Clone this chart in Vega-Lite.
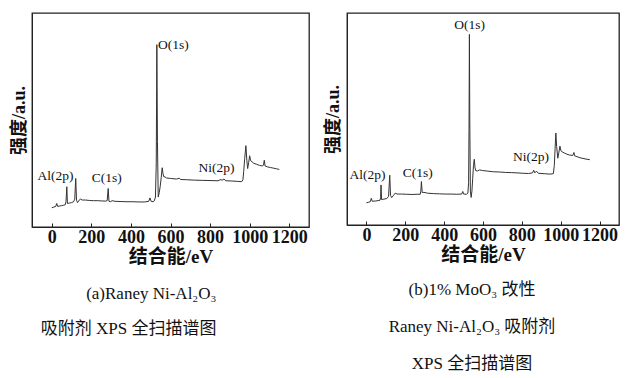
{
  "$schema": "https://vega.github.io/schema/vega-lite/v6.json",
  "padding": {"left": 9, "top": 12, "right": 0, "bottom": 0},
  "background": "white",
  "spacing": 13,
  "config": {
    "view": {"stroke": "#222", "strokeWidth": 1.3},
    "font": "Liberation Serif, Noto Sans CJK SC",
    "axis": {"grid": false, "domainColor": "#222", "tickColor": "#222", "labelColor": "#111", "titleColor": "#111"}
  },
  "datasets": {
    "a": [
      {"x":0,"y":9.0},{"x":10,"y":9.3},{"x":20,"y":9.6},{"x":25,"y":11.0},{"x":30,"y":9.6},{"x":40,"y":9.8},{"x":50,"y":10.0},{"x":60,"y":10.2},{"x":68,"y":10.4},{"x":72,"y":12},{"x":76,"y":18.8},{"x":79,"y":11.0},{"x":90,"y":11.2},{"x":100,"y":11.4},{"x":110,"y":11.8},{"x":116,"y":13},{"x":121,"y":22.7},{"x":125,"y":12.5},{"x":130,"y":11.4},{"x":138,"y":12.5},{"x":145,"y":13.0},{"x":155,"y":12.6},{"x":170,"y":12.6},{"x":190,"y":12.4},{"x":210,"y":12.3},{"x":230,"y":12.3},{"x":250,"y":12.2},{"x":270,"y":12.1},{"x":280,"y":12.3},{"x":285,"y":18.0},{"x":289,"y":12.0},{"x":296,"y":11.8},{"x":305,"y":12.3},{"x":320,"y":12.0},{"x":350,"y":11.9},{"x":380,"y":11.8},{"x":410,"y":11.8},{"x":440,"y":11.7},{"x":470,"y":11.7},{"x":490,"y":12.0},{"x":496,"y":13.6},{"x":502,"y":12.0},{"x":512,"y":11.8},{"x":518,"y":12.2},{"x":524,"y":14},{"x":528,"y":30},{"x":531,"y":85.2},{"x":534,"y":40},{"x":538,"y":14},{"x":543,"y":16},{"x":548,"y":19},{"x":553,"y":23},{"x":558,"y":27.7},{"x":562,"y":25},{"x":566,"y":23.5},{"x":572,"y":23.4},{"x":580,"y":22.9},{"x":600,"y":22.7},{"x":630,"y":22.4},{"x":645,"y":22.8},{"x":650,"y":22.2},{"x":680,"y":22.1},{"x":720,"y":21.9},{"x":760,"y":21.8},{"x":800,"y":21.7},{"x":840,"y":21.6},{"x":855,"y":22.2},{"x":860,"y":21.8},{"x":870,"y":22.4},{"x":880,"y":21.6},{"x":910,"y":21.5},{"x":940,"y":21.3},{"x":960,"y":21.2},{"x":966,"y":22},{"x":970,"y":26},{"x":975,"y":32},{"x":981,"y":38.0},{"x":986,"y":31},{"x":990,"y":27.3},{"x":995,"y":30},{"x":1000,"y":33.3},{"x":1005,"y":31},{"x":1012,"y":30.5},{"x":1020,"y":29.8},{"x":1035,"y":29.3},{"x":1050,"y":28.8},{"x":1065,"y":28.5},{"x":1070,"y":29},{"x":1074,"y":31.2},{"x":1078,"y":28.5},{"x":1090,"y":28.1},{"x":1105,"y":27.8},{"x":1120,"y":27.5},{"x":1135,"y":27.2},{"x":1150,"y":26.9}
    ],
    "b": [
      {"x":0,"y":10.5},{"x":10,"y":10.7},{"x":20,"y":11.0},{"x":25,"y":12.6},{"x":30,"y":11.2},{"x":45,"y":11.3},{"x":60,"y":11.5},{"x":70,"y":11.7},{"x":73,"y":13},{"x":75,"y":18.9},{"x":78,"y":12.0},{"x":90,"y":12.2},{"x":105,"y":12.5},{"x":114,"y":13.5},{"x":120,"y":23.5},{"x":124,"y":14},{"x":130,"y":12.9},{"x":138,"y":13.8},{"x":148,"y":15.0},{"x":158,"y":14.6},{"x":180,"y":14.6},{"x":205,"y":14.5},{"x":235,"y":14.4},{"x":260,"y":14.5},{"x":277,"y":14.5},{"x":280,"y":16},{"x":283,"y":20.5},{"x":287,"y":15.3},{"x":296,"y":15.4},{"x":315,"y":15.0},{"x":345,"y":14.8},{"x":375,"y":14.7},{"x":405,"y":14.6},{"x":435,"y":14.6},{"x":465,"y":14.5},{"x":490,"y":14.6},{"x":496,"y":15.8},{"x":500,"y":14.6},{"x":515,"y":14.5},{"x":522,"y":15},{"x":526,"y":20},{"x":528,"y":45},{"x":530,"y":89.9},{"x":532,"y":50},{"x":535,"y":16},{"x":539,"y":13},{"x":543,"y":16},{"x":547,"y":22},{"x":551,"y":28},{"x":555,"y":31},{"x":559,"y":27},{"x":563,"y":25.6},{"x":572,"y":25.5},{"x":582,"y":26.0},{"x":597,"y":25.7},{"x":625,"y":25.4},{"x":655,"y":25.1},{"x":685,"y":25.0},{"x":715,"y":24.8},{"x":745,"y":24.7},{"x":775,"y":24.6},{"x":805,"y":24.4},{"x":835,"y":24.3},{"x":855,"y":24.6},{"x":861,"y":25.8},{"x":867,"y":24.6},{"x":875,"y":25.4},{"x":885,"y":24.4},{"x":915,"y":24.2},{"x":945,"y":24.0},{"x":962,"y":24.2},{"x":967,"y":28},{"x":971,"y":36},{"x":975,"y":43.4},{"x":979,"y":37},{"x":985,"y":31.5},{"x":990,"y":34},{"x":996,"y":37.2},{"x":1001,"y":35},{"x":1008,"y":34.5},{"x":1018,"y":34},{"x":1032,"y":33.4},{"x":1045,"y":33.0},{"x":1062,"y":32.8},{"x":1068,"y":34.2},{"x":1072,"y":32.6},{"x":1085,"y":32.2},{"x":1100,"y":31.7},{"x":1115,"y":31.4},{"x":1130,"y":31.1},{"x":1150,"y":30.8}
    ],
    "la": [
      {"x":614,"y":85.2,"t":"O(1s)"},{"x":19,"y":23.9,"t":"Al(2p)"},{"x":278,"y":23.1,"t":"C(1s)"},{"x":833,"y":27.8,"t":"Ni(2p)"}
    ],
    "lb": [
      {"x":531,"y":94.2,"t":"O(1s)"},{"x":5,"y":23.7,"t":"Al(2p)"},{"x":264,"y":24.4,"t":"C(1s)"},{"x":847,"y":31.9,"t":"Ni(2p)"}
    ]
  },
  "hconcat": [
    {
      "width": 277, "height": 214,
      "title": {"text": ["(a)Raney Ni-Al₂O₃", "吸附剂 XPS 全扫描谱图"], "orient": "bottom", "anchor": "middle", "align": "right", "dx": 46, "offset": 20, "lineHeight": 35, "fontSize": 17, "fontWeight": "normal", "color": "#111", "font": "Liberation Serif, Noto Sans CJK SC"},
      "layer": [
        {
          "data": {"name": "a"},
          "mark": {"type": "line", "color": "#333", "strokeWidth": 1, "clip": true},
          "encoding": {
            "x": {"field": "x", "type": "quantitative", "scale": {"domain": [-100, 1300], "nice": false},
              "axis": {"values": [0,200,400,600,800,1000,1200], "format": "d", "tickSize": -4, "labelPadding": 5, "labelFontSize": 18, "labelFontWeight": "bold", "labelFont": "Liberation Serif", "title": "结合能/eV", "titleFontSize": 19, "titleFontWeight": "bold", "titlePadding": 1, "labelFlush": false}},
            "y": {"field": "y", "type": "quantitative", "scale": {"domain": [0, 100], "nice": false},
              "axis": {"labels": false, "ticks": false, "title": "强度/a.u.", "titleFontSize": 18, "titleFontWeight": "bold", "titlePadding": 4}}
          }
        },
        {
          "data": {"name": "la"},
          "mark": {"type": "text", "fontSize": 13.5, "font": "Liberation Serif", "color": "#111", "baseline": "middle"},
          "encoding": {
            "x": {"field": "x", "type": "quantitative"},
            "y": {"field": "y", "type": "quantitative"},
            "text": {"field": "t"}
          }
        }
      ]
    },
    {
      "width": 272, "height": 212,
      "title": {"text": ["(b)1% MoO₃ 改性", "Raney Ni-Al₂O₃ 吸附剂", "XPS 全扫描谱图"], "orient": "bottom", "anchor": "middle", "dx": -11, "offset": 18, "lineHeight": 37, "fontSize": 17, "fontWeight": "normal", "color": "#111", "font": "Liberation Serif, Noto Sans CJK SC"},
      "layer": [
        {
          "data": {"name": "b"},
          "mark": {"type": "line", "color": "#333", "strokeWidth": 1, "clip": true},
          "encoding": {
            "x": {"field": "x", "type": "quantitative", "scale": {"domain": [-100, 1300], "nice": false},
              "axis": {"values": [0,200,400,600,800,1000,1200], "format": "d", "tickSize": -4, "labelPadding": 5, "labelFontSize": 18, "labelFontWeight": "bold", "labelFont": "Liberation Serif", "title": "结合能/eV", "titleFontSize": 19, "titleFontWeight": "bold", "titlePadding": 1, "labelFlush": false}},
            "y": {"field": "y", "type": "quantitative", "scale": {"domain": [0, 100], "nice": false},
              "axis": {"labels": false, "ticks": false, "title": "强度/a.u.", "titleFontSize": 18, "titleFontWeight": "bold", "titlePadding": 5}}
          }
        },
        {
          "data": {"name": "lb"},
          "mark": {"type": "text", "fontSize": 13.5, "font": "Liberation Serif", "color": "#111", "baseline": "middle"},
          "encoding": {
            "x": {"field": "x", "type": "quantitative"},
            "y": {"field": "y", "type": "quantitative"},
            "text": {"field": "t"}
          }
        }
      ]
    }
  ]
}
